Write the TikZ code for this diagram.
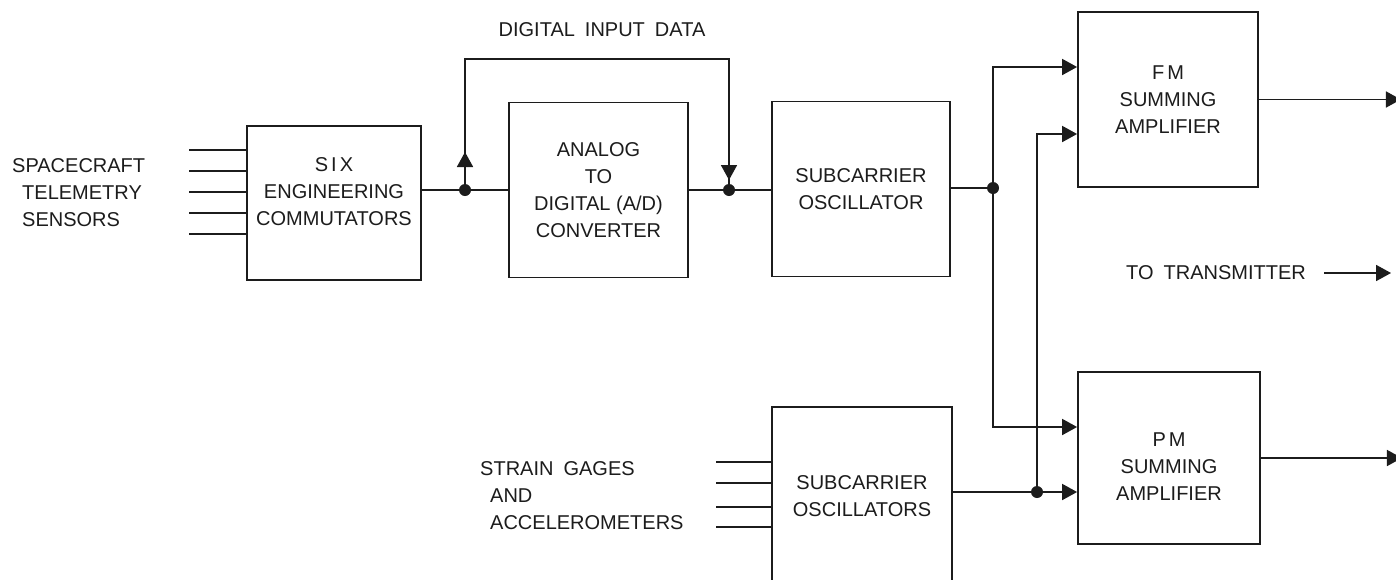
\documentclass[tikz,border=0pt]{standalone}
\usepackage{fontspec}
\setmainfont{Liberation Sans}
\usepackage{tikz}
\usetikzlibrary{arrows.meta,positioning}
\definecolor{TLMInk}{HTML}{1C1C1C}
\newcommand{\tlmfont}{\fontsize{20}{27}\selectfont}
\tikzset{
  tlmbox/.style={
    draw=TLMInk,
    line width=1.8pt,
    fill=white,
    align=center,
    font=\tlmfont,
    text=TLMInk
  },
  tlmtext/.style={font=\tlmfont,text=TLMInk,inner sep=0pt},
  tlmwire/.style={draw=TLMInk,line width=1.8pt},
  tlmflow/.style={-{Triangle[length=15pt,width=16pt]},draw=TLMInk,line width=1.8pt},
  tlmdot/.style={fill=TLMInk}
}

\begin{document}
\begin{tikzpicture}[x=1pt,y=-1pt]
  \path[fill=white,use as bounding box] (0,0) rectangle (1396,579);
  \clip (0,0) rectangle (1396,579);

  % blocks
  \node[tlmbox,minimum width=174pt,minimum height=154pt,text depth=22pt] (comm) at (334,203) {S\kern3pt I\kern3pt X\\ENGINEERING\\COMMUTATORS};
  \node[tlmbox,minimum width=179pt,minimum height=175pt] (adc) at (598.5,190) {ANALOG\\TO\\DIGITAL (A/D)\\CONVERTER};
  \node[tlmbox,minimum width=178pt,minimum height=175pt] (sco) at (861,189) {SUBCARRIER\\OSCILLATOR};
  \node[tlmbox,minimum width=180pt,minimum height=175pt] (fm) at (1168,99.5) {F\kern3pt M\\SUMMING\\AMPLIFIER};
  \node[tlmbox,minimum width=182pt,minimum height=172pt,text height=84pt] (pm) at (1169,458) {P\kern3pt M\\SUMMING\\AMPLIFIER};
  \node[tlmbox,minimum width=180pt,minimum height=178pt] (scos) at (862,496) {SUBCARRIER\\OSCILLATORS};

  % labels
  \node[tlmtext,align=left,anchor=west] (senslbl) at (12,193) {SPACECRAFT\\\hspace{10pt}TELEMETRY\\\hspace{10pt}SENSORS};
  \node[tlmtext,align=left,anchor=west] (strainlbl) at (480,496) {STRAIN\enspace GAGES\\\hspace{10pt}AND\\\hspace{10pt}ACCELEROMETERS};
  \node[tlmtext] (diglbl) at (602,30) {DIGITAL\enspace INPUT\enspace DATA};
  \node[tlmtext] (txlbl) at (1216,273) {TO\enspace TRANSMITTER};

  % junctions
  \coordinate (tapA) at (465,190);
  \coordinate (tapB) at (729,190);
  \coordinate (loopA) at (465,59);
  \coordinate (loopB) at (729,59);
  \coordinate (tapC) at (993,188);
  \coordinate (tapD) at (1037,492);

  % sensor inputs
  \foreach \dy in {53,32,11,-10,-31}
    \draw[tlmwire] ([yshift=\dy pt]comm.west) -- ++(-57,0);
  \foreach \dy in {34,13,-11,-31}
    \draw[tlmwire] ([yshift=\dy pt]scos.west) -- ++(-55,0);

  % main chain
  \draw[tlmwire] (comm.east |- tapA) -- (tapA) -- (adc.west |- tapA);
  \draw[tlmwire] (adc.east |- tapB) -- (tapB) -- (sco.west |- tapB);
  \draw[tlmwire] (tapA) -- (loopA) -- (loopB) -- (tapB);
  \draw[tlmflow] (tapA) -- ++(0,-38);
  \draw[tlmflow] (loopB) -- ++(0,121);

  % to summing amplifiers
  \draw[tlmwire] (sco.east |- tapC) -- (tapC);
  \draw[tlmflow] (tapC) |- ([yshift=32.5pt]fm.west);
  \draw[tlmflow] (tapC) |- ([yshift=31pt]pm.west);
  \draw[tlmflow] (scos.east |- tapD) -- (pm.west |- tapD);
  \draw[tlmflow] (tapD) |- ([yshift=-34.5pt]fm.west);

  % outputs
  \draw[tlmflow] (fm.east) -- ++(142,0);
  \draw[tlmflow] (pm.east) -- ++(141,0);
  \draw[tlmflow] ([xshift=18pt]txlbl.east) -- ++(67,0);

  \foreach \p in {tapA,tapB,tapC,tapD}
    \fill[tlmdot] (\p) circle (6pt);
\end{tikzpicture}
\end{document}
